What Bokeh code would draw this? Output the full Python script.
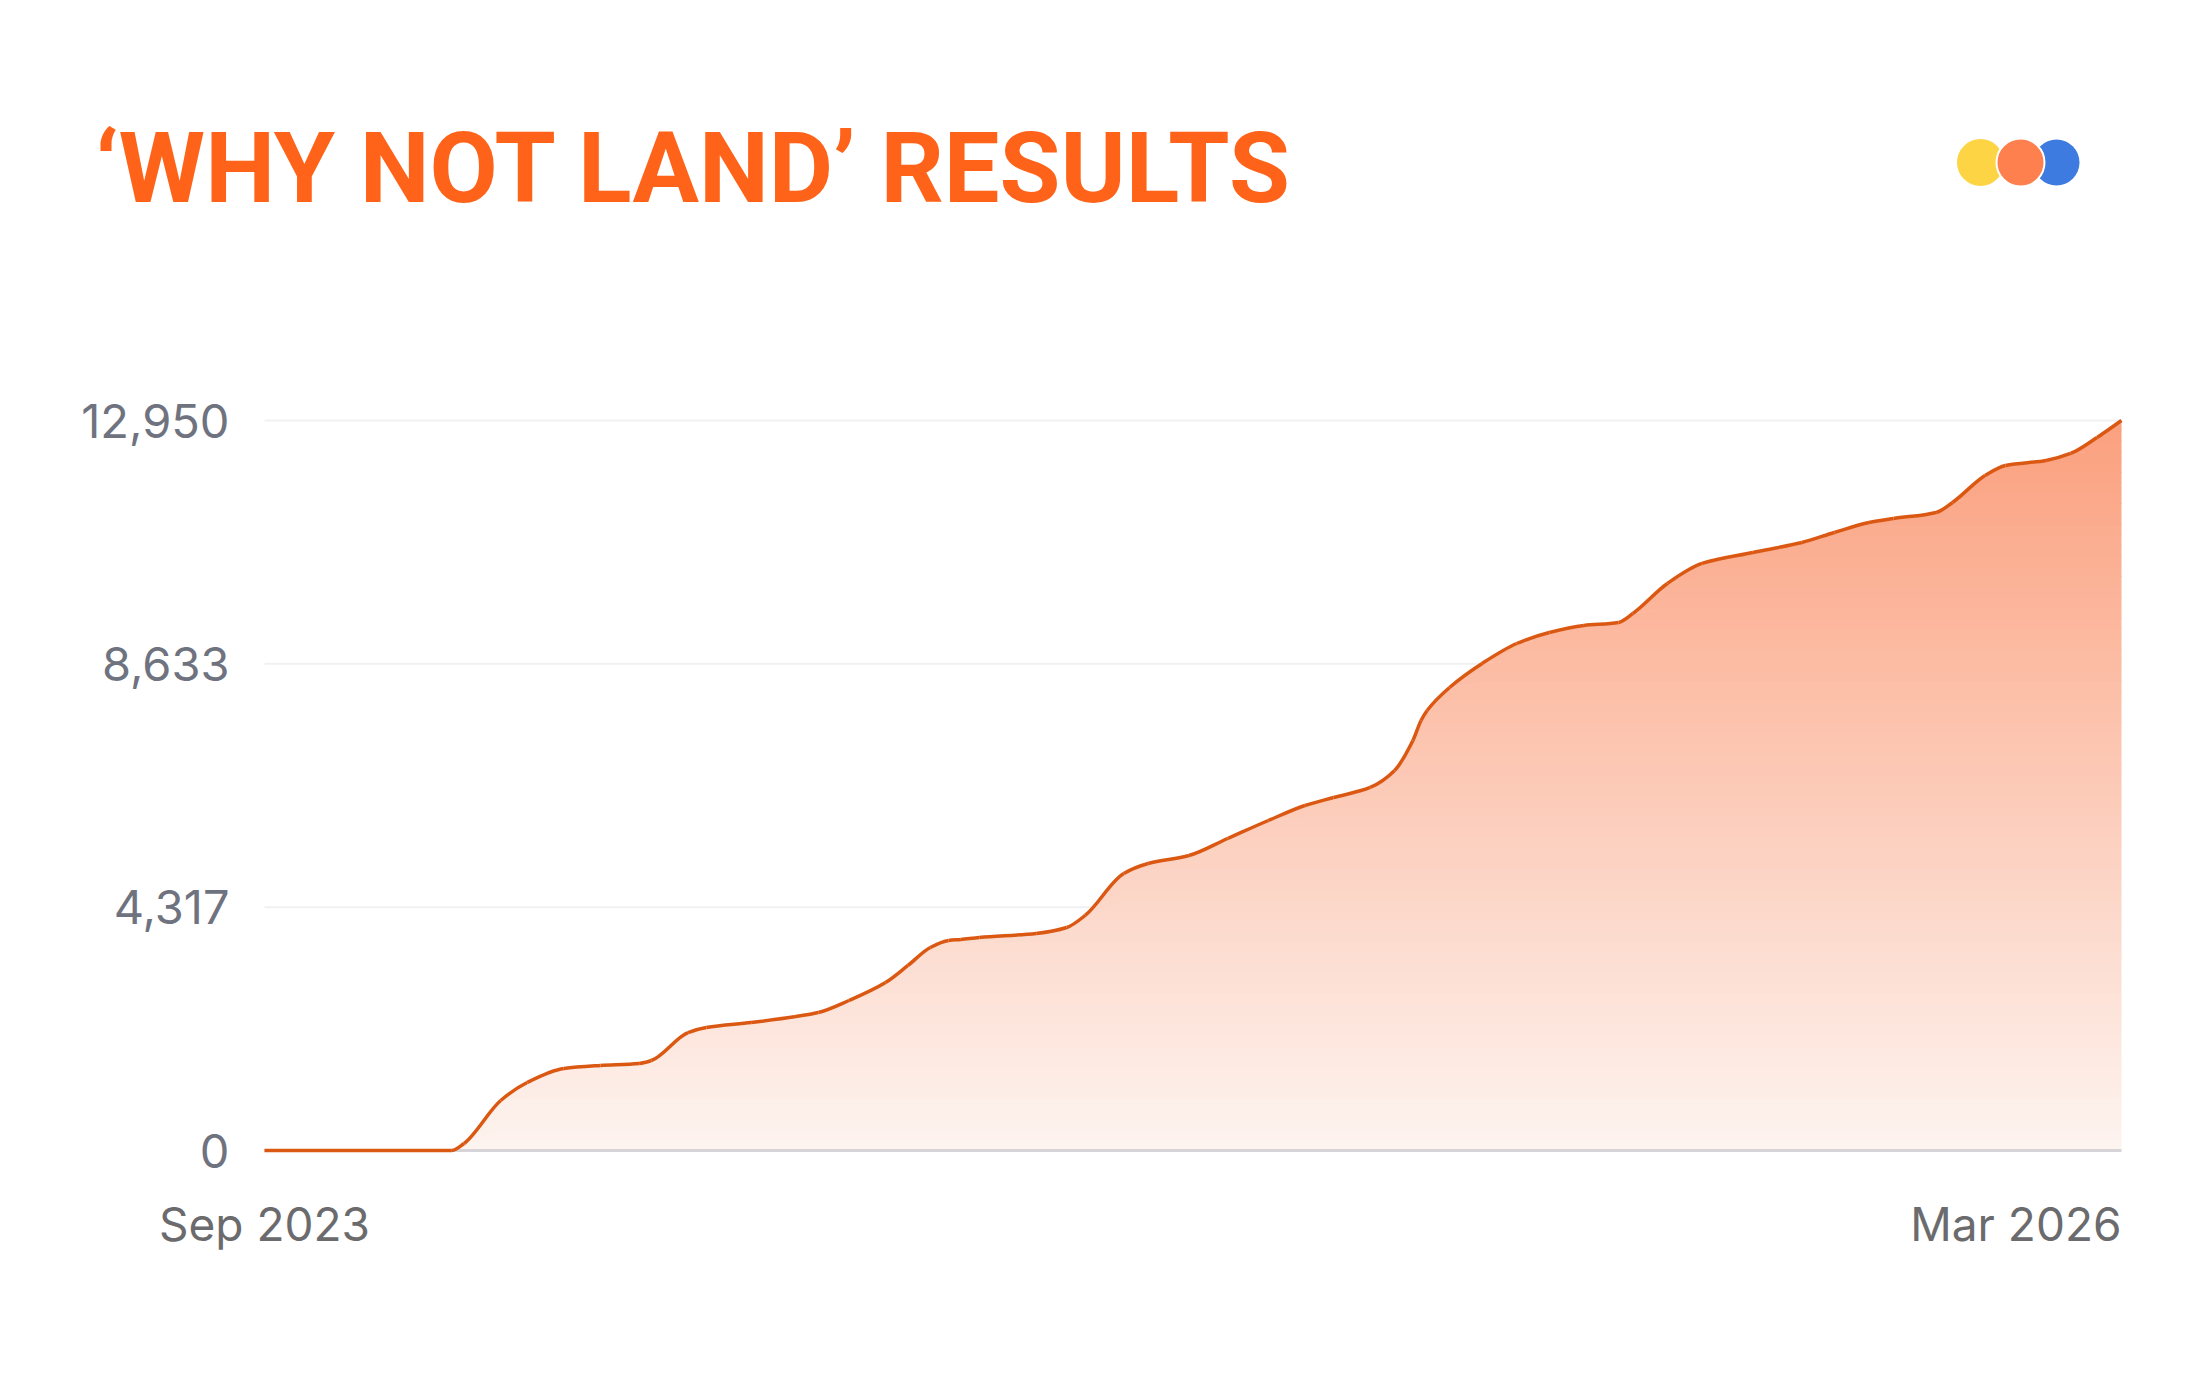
import numpy as np
import pandas as pd
from bokeh.plotting import figure
from bokeh.models import Range1d
from bokeh.core.properties import value
from bokeh.embed import file_html
from bokeh.resources import INLINE

# ---------------- data ----------------
title_text = "\u2018WHY NOT LAND\u2019 RESULTS"

dates = [
    "2023-09-01", "2023-12-02", "2023-12-08", "2023-12-26", "2024-01-08", "2024-01-26",
    "2024-02-13", "2024-03-03", "2024-03-09", "2024-03-27", "2024-04-05", "2024-04-27",
    "2024-05-19", "2024-05-30", "2024-06-14", "2024-07-02", "2024-07-13", "2024-07-24",
    "2024-08-02", "2024-08-08", "2024-08-17", "2024-09-14", "2024-09-29", "2024-10-08",
    "2024-10-27", "2024-11-08", "2024-11-28", "2024-12-17", "2025-01-06", "2025-01-24",
    "2025-02-07", "2025-02-25", "2025-03-09", "2025-03-18", "2025-03-22", "2025-03-25",
    "2025-04-05", "2025-04-21", "2025-05-08", "2025-05-24", "2025-06-10", "2025-06-27",
    "2025-07-04", "2025-07-21", "2025-08-07", "2025-09-01", "2025-09-25", "2025-10-11",
    "2025-10-28", "2025-11-09", "2025-11-30", "2025-12-08", "2025-12-24", "2026-01-03",
    "2026-01-23", "2026-02-04", "2026-02-17", "2026-03-01",
]
signups = [
    0, 0, 124, 887, 1206, 1455,
    1508, 1543, 1597, 2093, 2182, 2271,
    2377, 2448, 2661, 2980, 3282, 3601,
    3725, 3743, 3779, 3850, 3956, 4169,
    4914, 5091, 5233, 5535, 5854, 6120,
    6262, 6440, 6741, 7273, 7628, 7806,
    8214, 8640, 8994, 9189, 9314, 9367,
    9526, 10059, 10414, 10609, 10786, 10964,
    11141, 11212, 11318, 11496, 11975, 12152,
    12241, 12365, 12649, 12950,
]
y_ticks = [0, 4317, 8633, 12950]
x_tick_labels = ["Sep 2023", "Mar 2026"]

# ---------------- layout / styling ----------------
W, H = 2184, 1359
FRAME_L, FRAME_R = 264, 2121       # pixel columns of first / last date
BASE_Y, TOP_Y = 1150, 420          # pixel rows of 0 and of the top tick
ORANGE_TITLE = "#ff6319"
LINE_COLOR = "#db5813"
TICK_FONT = "Inter"

x = pd.to_datetime(dates)
xm = (x.asi8 // 10**6).astype(float)          # epoch ms
v = np.array(signups, dtype=float)
top = float(y_ticks[-1])

mpp = (xm[-1] - xm[0]) / (FRAME_R - FRAME_L)   # ms per pixel
ppu = (BASE_Y - TOP_Y) / top                   # pixels per unit


def px_x(px):
    return xm[0] + (px - FRAME_L) * mpp


def px_y(py):
    return (BASE_Y - py) / ppu


p = figure(width=W, height=H,
           x_range=Range1d(px_x(0), px_x(W)), y_range=Range1d(px_y(H), px_y(0)),
           output_backend="svg", toolbar_location=None, min_border=0,
           x_axis_location=None, y_axis_location=None)
p.grid.visible = False
p.outline_line_color = None
p.background_fill_color = "white"
p.border_fill_color = "white"

# ---- title and logo ----
p.text(x=[px_x(95)], y=[px_y(167)], text=[title_text],
       text_font=value("Roboto"), text_font_style="bold",
       text_font_size="99px", text_color=ORANGE_TITLE,
       text_baseline="alphabetic", text_align="left")
logo_y = px_y(162)
p.scatter(x=[px_x(1980)], y=[logo_y], size=47, marker="circle",
          fill_color="#fdd443", line_color=None)
p.scatter(x=[px_x(2056)], y=[logo_y], size=46, marker="circle",
          fill_color="#3d7be0", line_color=None)
p.scatter(x=[px_x(2020)], y=[logo_y], size=48, marker="circle",
          fill_color="#ff804f", line_color="white", line_width=2)

# ---- grid lines ----
p.segment(x0=[xm[0]] * 3, x1=[xm[-1]] * 3, y0=y_ticks[1:], y1=y_ticks[1:],
          line_color="#f1f1f3", line_width=2)

# ---- gradient fill under curve (horizontal bands) ----
nb = 70
edges = np.linspace(0, top, nb + 1)
c_bot = np.array([253, 244, 240])
c_top = np.array([251, 160, 126])
eps = top / nb * 0.08
for i in range(nb):
    a, b = edges[i], edges[i + 1]
    t = (i + 0.5) / nb
    c = (c_bot + (c_top - c_bot) * t).round().astype(int)
    col = "#%02x%02x%02x" % tuple(c)
    p.varea(x=xm, y1=np.minimum(v, a), y2=np.minimum(v, b + eps), fill_color=col)

# ---- baseline ----
p.segment(x0=[xm[0]], x1=[xm[-1]], y0=[y_ticks[0]], y1=[y_ticks[0]],
          line_color="#d6d3d9", line_width=3)

# ---- smooth line through the points (monotone cubic Bezier segments) ----
dx = np.diff(xm)
dy = np.diff(v)
sl = dy / dx
m = np.zeros_like(v)
m[0], m[-1] = sl[0], sl[-1]
for i in range(1, len(v) - 1):
    if sl[i - 1] * sl[i] <= 0:
        m[i] = 0.0
    else:
        w1 = 2 * dx[i] + dx[i - 1]
        w2 = dx[i] + 2 * dx[i - 1]
        m[i] = (w1 + w2) / (w1 / sl[i - 1] + w2 / sl[i])
p.bezier(x0=xm[:-1], y0=v[:-1], x1=xm[1:], y1=v[1:],
         cx0=xm[:-1] + dx / 3, cy0=v[:-1] + m[:-1] * dx / 3,
         cx1=xm[1:] - dx / 3, cy1=v[1:] - m[1:] * dx / 3,
         line_color=LINE_COLOR, line_width=3.5)

# ---- y tick labels ----
p.text(x=[xm[0]] * len(y_ticks), y=y_ticks, text=[f"{t:,}" for t in y_ticks],
       x_offset=-35, text_align="right", text_baseline="middle",
       text_font=value(TICK_FONT), text_font_size="47px", text_color="#6f7380")

# ---- x labels ----
p.text(x=[xm[0]], y=[y_ticks[0]], text=[x_tick_labels[0]], y_offset=73,
       text_align="center", text_baseline="middle",
       text_font=value(TICK_FONT), text_font_size="46px", text_color="#6b6b6e")
p.text(x=[xm[-1]], y=[y_ticks[0]], text=[x_tick_labels[1]], y_offset=73,
       text_align="right", text_baseline="middle",
       text_font=value(TICK_FONT), text_font_size="46px", text_color="#6b6b6e")

open("out.html", "w").write(file_html(p, INLINE))
